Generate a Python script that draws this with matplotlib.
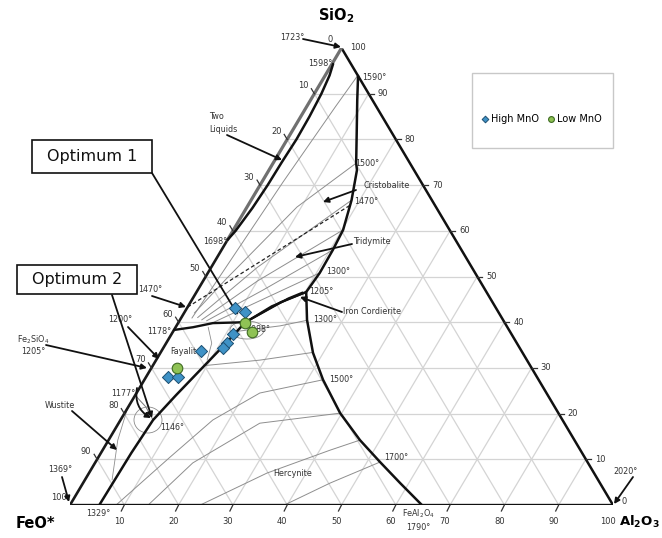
import numpy as np
import matplotlib
matplotlib.use("Agg")
import matplotlib.pyplot as plt
from matplotlib.patches import Rectangle, Ellipse

# ---------------- data (compositions: SiO2 %, Al2O3 %) ----------------
tick_values = [0, 10, 20, 30, 40, 50, 60, 70, 80, 90, 100]

two_liquid_boundary = [(96.5, 0.2), (94, 0.8), (90, 1.3), (85, 1.6), (80, 1.7), (75, 1.5),
                       (70, 1.4), (65, 1.1), (60, 0.5), (58, 0)]
silica_mullite_hercynite_boundary = [(93.9, 6.1), (88.6, 8.6), (81.4, 12.1), (74.8, 15.3), (73.3, 16.2),
                                     (66.7, 18.5), (60.2, 20.2), (55.8, 20.5), (50.8, 20.6), (46.6, 20.2),
                                     (40.5, 23.4), (33.3, 28.1), (27.4, 32.9), (20.1, 39.7), (14.2, 46.3),
                                     (9.4, 52.4), (4.8, 58.4), (0, 64.8)]
fayalite_tridymite_boundary = [(38.3, 0), (38.9, 3.2), (39.8, 6.4), (40.0, 12.3)]
cordierite_bundle = [
    [(40.0, 12.3), (43.5, 15.4), (46.6, 20.2)],
    [(40.0, 12.3), (44.4, 16.6), (46.6, 20.2)],
    [(40.3, 12.6), (45.2, 17.6), (46.5, 19.6)],
]
fayalite_hercynite_boundary = [(40.0, 12.3), (35, 10.9), (29.5, 9.2), (24, 7.5), (18.6, 6.0),
                               (11.4, 5.6), (0, 5.4)]
wustite_fayalite_boundary = [(24, 0), (21.5, 3.2), (18.6, 6.0)]
wustite_isotherm = [(20.8, 0.1), (14.2, 1.7), (5.5, 5.0)]
fayalite_isotherm = [(38.9, 6.0), (35.4, 8.4), (31.7, 9.4)]
tridymite_cristobalite_1470 = [(43.3, 0), (65.6, 18.8)]

silica_isotherms = [
    [(40.9, 2.0), (55, 2.9), (70.7, 3.9), (87.1, 5.3), (94.0, 6.0)],
    [(42.0, 1.9), (49.7, 4.1), (65.2, 9.2), (74.8, 15.3)],
    [(41.0, 3.0), (52, 8.5), (66.7, 18.5)],
    [(40.5, 4.0), (49, 10.0), (60.2, 20.2)],
    [(40.3, 5.0), (47, 12.0), (55.8, 20.5)],
    [(40.0, 6.5), (45, 13.0), (50.8, 20.6)],
]
hercynite_isotherms = [
    [(38.0, 11.8), (39.2, 19.1), (40.4, 23.4)],
    [(30.5, 9.5), (31.7, 19.1), (33.4, 28.1)],
    [(0, 8.5), (10.5, 13.2), (18.6, 17.0), (24.5, 22.7), (27.4, 32.9)],
    [(0, 14.4), (9.2, 18.0), (17.9, 26.0), (20.1, 39.7)],
    [(0, 24.0), (7.0, 32.8), (12.0, 41.9), (14.2, 46.3)],
    [(0, 39.5), (4.8, 45.5), (9.4, 52.4)],
]

high_mno_sio2 = [43.1, 42.2, 37.4, 35.4, 34.4, 33.7, 28.0, 28.0]
high_mno_al2o3 = [8.8, 11.1, 11.3, 11.2, 11.0, 7.3, 4.0, 5.9]
low_mno_sio2 = [39.8, 37.9, 30.0]
low_mno_al2o3 = [12.3, 14.6, 4.7]

# ---------------- layout ----------------
W, H = 662, 538
R3 = np.sqrt(3) / 2
fig = plt.figure(figsize=(W / 100, H / 100), dpi=100)
fig.patch.set_facecolor("white")
ax = fig.add_axes([70 / W, (H - 505) / H, (613 - 70) / W, (505 - 48) / H])
ax.set_xlim(0, 100)
ax.set_ylim(0, 100 * R3)
ax.set_axis_off()

SX = (613 - 70) / 100.0
SY = (505 - 48) / (100 * R3)


def T(pts):
    p = np.asarray(pts, float)
    return p[:, 0] * 0.5 + p[:, 1], p[:, 0] * R3


def P(x, y):
    return ((x - 70) / SX, (505 - y) / SY)


def line(pts, **kw):
    x, y = T(pts)
    ax.plot(x, y, solid_capstyle="round", **kw)


# grid
gcol = "#d4d4d4"
for k in range(10, 100, 10):
    line([(k, 0), (k, 100 - k)], color=gcol, lw=0.9, zorder=1)
    line([(0, k), (100 - k, k)], color=gcol, lw=0.9, zorder=1)
    line([(100 - k, 0), (0, 100 - k)], color=gcol, lw=0.9, zorder=1)

# isotherms
icol = "#8e8e8e"
for c in silica_isotherms + hercynite_isotherms:
    line(c, color=icol, lw=0.7, zorder=2)
line(wustite_isotherm, color=icol, lw=0.6, zorder=2)
line(fayalite_isotherm, color=icol, lw=0.6, zorder=2)
line(wustite_fayalite_boundary, color="#777777", lw=0.7, zorder=2)

# triangle edges
line([(0, 0), (0, 100)], color="#111111", lw=2.4, zorder=4)
line([(0, 100), (100, 0)], color="#111111", lw=1.8, zorder=4)
line([(0, 0), (58, 0)], color="#1a1a1a", lw=1.9, zorder=4)
line([(58, 0), (100, 0)], color="#707070", lw=2.3, zorder=4)

# phase boundaries
line(two_liquid_boundary, color="#111111", lw=1.8, zorder=4)
line(silica_mullite_hercynite_boundary, color="#111111", lw=1.8, zorder=4)
line(fayalite_tridymite_boundary, color="#111111", lw=1.7, zorder=4)
for b in cordierite_bundle:
    line(b, color="#111111", lw=1.5, zorder=4)
line(fayalite_hercynite_boundary, color="#111111", lw=1.8, zorder=4)
x, y = T(tridymite_cristobalite_1470)
ax.plot(x, y, color="#222222", lw=0.9, ls=(0, (3, 2)), zorder=3)

# ticks and tick labels
tk = dict(color="#333333", lw=0.9, zorder=4, clip_on=False)
tf = dict(fontsize=6, color="#333333", clip_on=False)
for k in tick_values:
    # left edge: FeO %
    x, y = T([(100 - k, 0)])
    if 0 < k < 100:
        ax.plot([x[0], x[0] - 3 / SX], [y[0], y[0] + 5 / SY], **tk)
    ax.text(x[0] - 11 / SX, y[0] + 8 / SY, str(k), ha="center", va="center", **tf)
    # right edge: SiO2 %
    x, y = T([(k, 100 - k)])
    if 0 < k < 100:
        ax.plot([x[0], x[0] + 5 / SX], [y[0], y[0]], **tk)
    ax.text(x[0] + 9 / SX, y[0] + (3 / SY if k == 0 else 0), str(k), ha="left", va="center", **tf)
    # bottom edge: Al2O3 %
    if k > 0:
        x, y = T([(0, k)])
        if k < 100:
            ax.plot([x[0], x[0] - 3 / SX], [y[0], y[0] - 6 / SY], **tk)
        ax.text(x[0] - 5 / SX, y[0] - 17 / SY, str(k), ha="center", va="center", **tf)

# ellipses
for (cx, cy, w, h) in [(148, 420, 28, 26), (247, 330, 34, 18)]:
    ax.add_patch(Ellipse(P(cx, cy), w / SX, h / SY, fill=False, ec="#8a8a8a", lw=0.6, zorder=2))

# labels
small = dict(fontsize=5.8, color="#333333", va="center", clip_on=False, zorder=5)
labels = [
    ("1723°", 292, 37, "center"), ("1598°", 320, 63, "center"), ("1590°", 362, 77, "left"),
    ("Two", 209, 117, "left"), ("Liquids", 209, 129, "left"), ("1500°", 355, 164, "left"),
    ("Cristobalite", 363, 186, "left"), ("1470°", 354, 202, "left"), ("1698°", 215, 242, "center"),
    ("Tridymite", 353, 241, "left"), ("1300°", 326, 271, "left"), ("1470°", 150, 289, "center"),
    ("1205°", 309, 292, "left"), ("Iron Cordierite", 343, 312, "left"), ("1300°", 313, 320, "left"),
    ("1200°", 120, 320, "center"), ("1178°", 171, 331, "right"), ("1088°", 246, 330, "left"),
    ("Fe$_2$SiO$_4$", 33, 340, "center"), ("1205°", 33, 352, "center"), ("Fayalit", 170, 351, "left"),
    ("1177°", 123, 393, "center"), ("1500°", 329, 380, "left"), ("Wustite", 60, 405, "center"),
    ("1146°", 160, 427, "left"), ("1700°", 384, 458, "left"), ("1369°", 60, 470, "center"),
    ("Hercynite", 293, 473, "center"), ("1329°", 98, 514, "center"),
    ("FeAl$_2$O$_4$", 418, 514, "center"), ("1790°", 418, 527, "center"), ("2020°", 625, 472, "center"),
]
for t, px_, py_, ha in labels:
    ax.text(*P(px_, py_), t, ha=ha, **small)

# vertex labels
ax.text(*P(336, 16), r"$\mathbf{SiO_2}$", fontsize=10.5, ha="center", va="center", clip_on=False)
ax.text(*P(35, 523), "FeO*", fontsize=10.5, fontweight="bold", ha="center", va="center", clip_on=False)
ax.text(*P(619, 522), r"$\mathbf{Al_2O_3}$", fontsize=9.5, ha="left", va="center", clip_on=False)

# arrows
ap = dict(arrowstyle="-|>", color="#111111", lw=1.3, mutation_scale=8, shrinkA=0, shrinkB=0)
arrows = [((303, 39), (341, 47)), ((227, 135), (282, 160)), ((356, 190), (323, 202)),
          ((352, 244), (295, 257)), ((342, 312), (300, 297)), ((152, 296), (186, 307)),
          ((128, 327), (159, 359)), ((46, 345), (147, 368)), ((72, 411), (117, 450)),
          ((62, 477), (69, 502)), ((633, 477), (614, 504)),
          ((152, 173), (238, 315)), ((112, 295), (152, 418))]
for (p0, p1) in arrows:
    ax.annotate("", xy=P(*p1), xytext=P(*p0), arrowprops=ap, annotation_clip=False, zorder=6)
ax.annotate("", xy=P(151, 418), xytext=P(137, 388),
            arrowprops=dict(ap, connectionstyle="arc3,rad=0.35"), annotation_clip=False, zorder=6)

# Optimum boxes
for (x0, y0, x1, y1, txt) in [(32, 140, 152, 173, "Optimum 1"), (17, 265, 137, 294, "Optimum 2")]:
    ax.add_patch(Rectangle(P(x0, y1), (x1 - x0) / SX, (y1 - y0) / SY, fc="white", ec="#111111",
                           lw=1.2, clip_on=False, zorder=7))
    ax.text(*P((x0 + x1) / 2, (y0 + y1) / 2), txt, fontsize=11.5, ha="center", va="center",
            color="#111111", clip_on=False, zorder=8)

# data markers
hx, hy = T(list(zip(high_mno_sio2, high_mno_al2o3)))
lx, ly = T(list(zip(low_mno_sio2, low_mno_al2o3)))
h1 = ax.scatter(hx, hy, marker="D", s=38, c="#3f92c6", edgecolors="#1d4f72", linewidths=0.7,
                zorder=9, clip_on=False, label="High MnO")
h2 = ax.scatter(lx, ly, marker="o", s=58, c="#8fc255", edgecolors="#3e6b22", linewidths=0.8,
                zorder=10, clip_on=False, label="Low MnO")

# legend
ax.add_patch(Rectangle(P(472, 148), (613 - 472) / SX, (148 - 73) / SY, fill=False, ec="#c8c8c8",
                       lw=1.0, clip_on=False, zorder=5))
fig.legend(handles=[h1, h2], loc="center", bbox_to_anchor=(541 / W, 1 - 119 / H), ncol=2,
           frameon=False, fontsize=7, handletextpad=0.05, columnspacing=0.8, handlelength=1.0,
           markerscale=0.55, borderpad=0)

fig.savefig("out.png", dpi=100)
